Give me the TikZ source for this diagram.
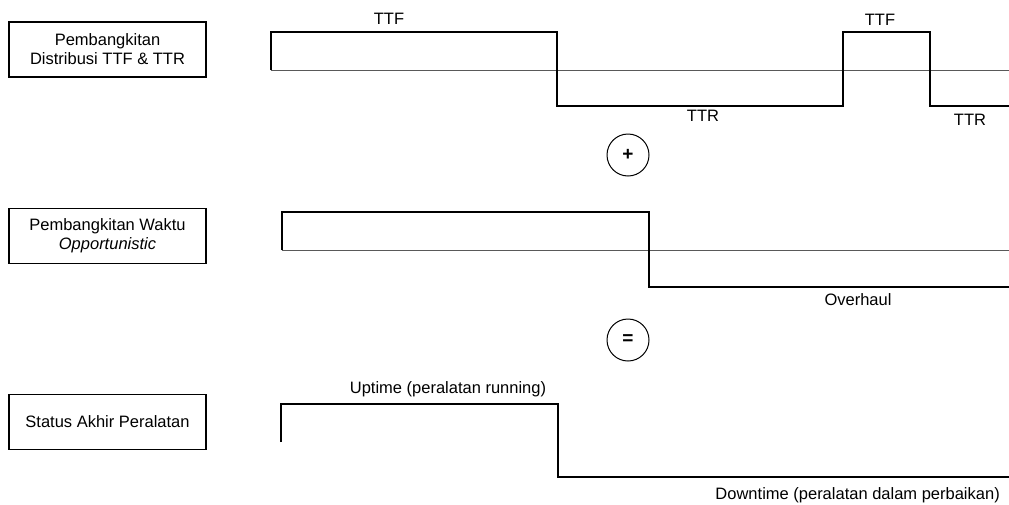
\documentclass[tikz,border=0pt]{standalone}
\usepackage{fontspec}
\setmainfont{Liberation Sans}
\begin{document}
\begin{tikzpicture}[x=1pt,y=-1pt,
  labelbox/.style={draw=black,line width=1.4pt,minimum width=197pt,minimum height=55pt,
    align=center,inner sep=0pt,font=\fontsize{16.5}{19}\selectfont},
  lbl/.style={font=\fontsize{16.5}{19}\selectfont,inner sep=0pt},
  opcircle/.style={draw=black,line width=1pt,circle,minimum size=42pt,inner sep=0pt,
    font=\fontsize{19}{20}\selectfont\bfseries},
  wave/.style={line width=2.8pt,line join=miter,line cap=butt},
  axis/.style={draw=black!65,line width=1pt}]
\useasboundingbox (0,0) rectangle (1009,504);

% row labels
\node[labelbox] (gen) at (107.5,49.5) {Pembangkitan\\Distribusi TTF \& TTR};
\node[labelbox] (opp) at (107.5,236) {Pembangkitan Waktu\\\textit{Opportunistic}};
\node[labelbox] (stat) at (107.5,422) {Status Akhir Peralatan};

% TTF / TTR signal
\draw[axis] (271,70) -- (1009,70);
\draw[wave] (271,70) -- (271,32) -- (557,32) -- (557,106) -- (843,106) -- (843,32)
  -- (930,32) -- (930,106) -- (1009,106);
\node[lbl] (ttf1) at (389,19) {TTF};
\node[lbl] (ttf2) at (880,20) {TTF};
\node[lbl] (ttr1) at (703,116) {TTR};
\node[lbl] (ttr2) at (970,120) {TTR};

\node[opcircle] (plus) at (628,155) {+};

% opportunistic overhaul signal
\draw[axis] (282,250) -- (1009,250);
\draw[wave] (282,250) -- (282,212) -- (649,212) -- (649,287) -- (1009,287);
\node[lbl] (ovh) at (858,300) {Overhaul};

\node[opcircle] (eq) at (628,340) {=};

% resulting equipment status
\draw[wave] (281,442) -- (281,404) -- (558,404) -- (558,477) -- (1009,477);
\node[lbl] (up) at (448,389) {Uptime (peralatan running)};
\node[lbl,anchor=east] (down) at (1000,495) {Downtime (peralatan dalam perbaikan)};
\end{tikzpicture}
\end{document}
